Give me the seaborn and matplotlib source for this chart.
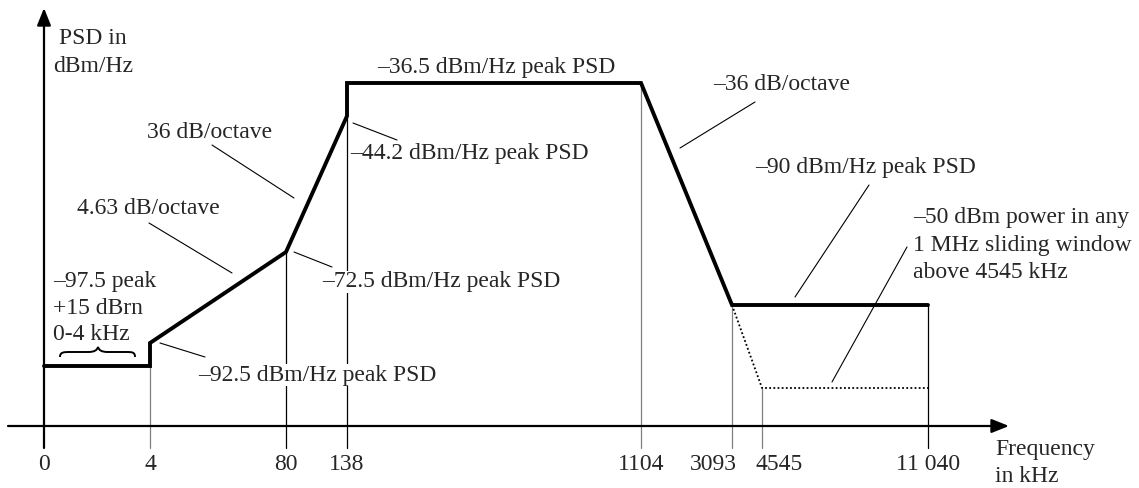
import numpy as np
import pandas as pd
import matplotlib.pyplot as plt
from matplotlib.path import Path
from matplotlib.patches import PathPatch
import seaborn as sns

# --- data -------------------------------------------------------------
freq_khz = [0, 4, 80, 138, 1104, 3093, 4545, 11040]
freq_labels = ['0', '4', '80', '138', '1104', '3093', '4545', '11 040']

mask_freq = [0, 4, 4, 80, 138, 138, 1104, 3093, 11040]
mask_psd = [-97.5, -97.5, -92.5, -72.5, -44.2, -36.5, -36.5, -90, -90]

# -50 dBm in any 1 MHz window ~ -110 dBm/Hz
window_freq = [3093, 4545, 11040]
window_psd = [-90, -110, -110]

# --- schematic (non linear) axis layout, in pixels ----------------------
freq_pos = [44, 150, 286, 347, 641, 732, 762, 928]
label_shift = [0, 0, 0, 0, 0, -19, 17, 0]   # 3093 / 4545 labels pushed apart
level_psd = [-110, -97.5, -92.5, -90, -72.5, -44.2, -36.5]
level_pos = [388, 366, 343, 305, 252, 116, 83]
axis_y = 426
tick_bottom = 448


def px(f):
   return np.interp(f, freq_khz, freq_pos)


def py(p):
   return np.interp(p, level_psd, level_pos)


sns.set_style('white')
plt.rcParams['font.family'] = ['Liberation Serif', 'DejaVu Serif']
FS = 17

fig = plt.figure(figsize=(11.39, 4.88), dpi=100)
ax = fig.add_axes([0, 0, 1, 1])
ax.set_xlim(0, 1139)
ax.set_ylim(488, 0)
ax.axis('off')

# PSD mask
mask = pd.DataFrame({'x': px(mask_freq), 'y': py(mask_psd)})
sns.lineplot(data=mask, x='x', y='y', sort=False, estimator=None,
             color='black', lw=2.8, ax=ax, legend=False, zorder=4)
ax.lines[-1].set_solid_joinstyle('miter')

# sliding window limit (dotted)
win = pd.DataFrame({'x': px(window_freq), 'y': py(window_psd)})
sns.lineplot(data=win, x='x', y='y', sort=False, estimator=None,
             color='black', lw=1.3, ax=ax, legend=False, zorder=3)
ax.lines[-1].set_linestyle((0, (1.0, 1.3)))

# drop lines from the mask to the frequency axis
top_psd = {4: -97.5, 80: -72.5, 138: -44.2, 1104: -36.5, 3093: -90, 4545: -110, 11040: -90}
grey = {4, 1104, 3093, 4545}
for f in freq_khz:
   if f == 0:
      continue
   ax.plot([px(f), px(f)], [py(top_psd[f]), tick_bottom],
           color='#808080' if f in grey else 'black', lw=0.9, zorder=2)

# axes with arrows
ax.annotate('', xy=(1009, axis_y), xytext=(8, axis_y),
            arrowprops=dict(arrowstyle='-|>,head_length=0.75,head_width=0.3',
                            mutation_scale=14, lw=1.6, color='black',
                            shrinkA=0, shrinkB=0), zorder=3)
ax.annotate('', xy=(px(0), 8), xytext=(px(0), tick_bottom),
            arrowprops=dict(arrowstyle='-|>,head_length=0.75,head_width=0.3',
                            mutation_scale=14, lw=1.6, color='black',
                            shrinkA=0, shrinkB=0), zorder=3)

# tick labels
for f, lab, dx in zip(freq_khz, freq_labels, label_shift):
   ax.text(px(f) + dx, 465, lab, ha='center', va='center', fontsize=FS)

ax.text(995, 450, 'Frequency', ha='left', va='center', fontsize=FS)
ax.text(995, 476, 'in kHz', ha='left', va='center', fontsize=FS)
ax.text(93, 38, 'PSD in', ha='center', va='center', fontsize=FS)
ax.text(93, 66, 'dBm/Hz', ha='center', va='center', fontsize=FS)


def label(x, y, s, ha='left'):
   ax.text(x, y, s, ha=ha, va='center', fontsize=FS, zorder=5,
           bbox=dict(fc='white', ec='none', pad=0.5))


def leader(x0, y0, x1, y1):
   ax.plot([x0, x1], [y0, y1], color='black', lw=0.8, zorder=3)


label(496, 67, '\u201336.5 dBm/Hz peak PSD', ha='center')
label(350, 153, '\u201344.2 dBm/Hz peak PSD')
leader(353, 123, 397, 140)
label(147, 132, '36 dB/octave')
leader(212, 145, 294, 198)
label(77, 208, '4.63 dB/octave')
leader(149, 223, 232, 273)
label(322, 282, '\u201372.5 dBm/Hz peak PSD')
leader(294, 252, 332, 267)
label(198, 375, '\u201392.5 dBm/Hz peak PSD')
leader(160, 343, 205, 357)
label(53, 281, '\u201397.5 peak')
label(53, 308, '+15 dBrn')
label(53, 335, '0-4 kHz')
label(713, 85, '\u201336 dB/octave')
leader(755, 102, 680, 148)
label(755, 167, '\u201390 dBm/Hz peak PSD')
leader(869, 185, 795, 297)
label(913, 218, '\u201350 dBm power in any')
label(913, 245, '1 MHz sliding window')
label(913, 272, 'above 4545 kHz')
leader(907, 247, 832, 382)

# curly brace over 0-4 kHz
verts = [(60, 357), (60, 352), (64, 352), (70, 352),
         (88, 352),
         (95, 352), (97, 350), (98, 347),
         (99, 350), (101, 352), (108, 352),
         (126, 352),
         (132, 352), (135, 352), (135, 357)]
codes = [Path.MOVETO, Path.CURVE4, Path.CURVE4, Path.CURVE4,
         Path.LINETO,
         Path.CURVE4, Path.CURVE4, Path.CURVE4,
         Path.CURVE4, Path.CURVE4, Path.CURVE4,
         Path.LINETO,
         Path.CURVE4, Path.CURVE4, Path.CURVE4]
ax.add_patch(PathPatch(Path(verts, codes), fc='none', ec='black', lw=1.4))

fig.savefig('out.png', dpi=100)
